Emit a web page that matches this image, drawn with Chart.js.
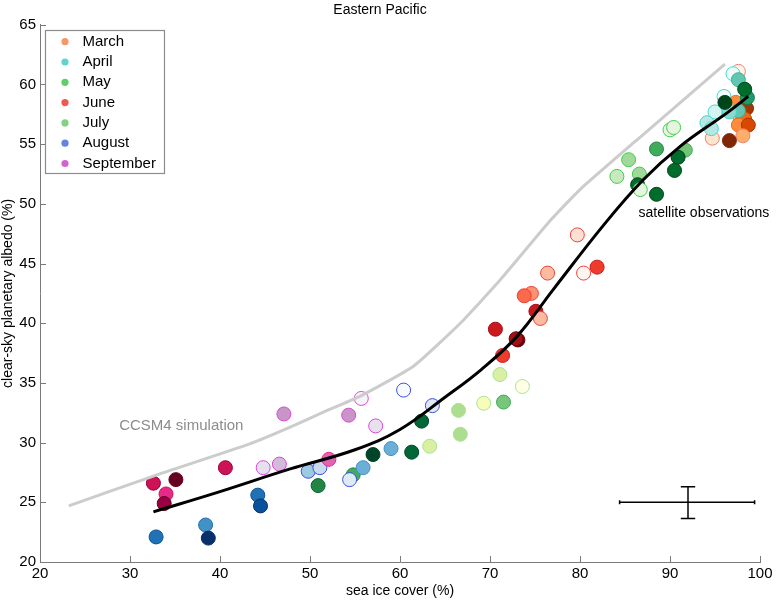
<!DOCTYPE html>
<html>
<head>
<meta charset="utf-8">
<script src="https://cdn.jsdelivr.net/npm/chart.js@4.4.0/dist/chart.umd.min.js"></script>
<style>
  body { margin: 0; background: #fff; }
  canvas { display: block; }
</style>
</head>
<body>
<canvas id="myChart" width="782" height="600"></canvas>
<script>
// months shown in the legend
const months = ['March', 'April', 'May', 'June', 'July', 'August', 'September']

// sea ice cover (%), clear-sky albedo (%) and year index (0 = lightest shade)
const marchIce = [97.6, 97.3, 98.5, 97.8, 98.3, 97.6, 98.7, 98.1, 94.7, 96.6]
const marchAlbedo = [61.1, 58.5, 58.0, 57.2, 57.1, 56.6, 56.6, 55.7, 55.5, 55.3]
const marchYear = [0, 4, 7, 3, 5, 4, 6, 3, 1, 8]

const aprilIce = [97.0, 97.6, 96.0, 95.0, 94.1, 94.6, 97.6, 96.6, 98.6]
const aprilAlbedo = [60.9, 60.4, 59.0, 57.7, 56.8, 56.3, 57.8, 57.7, 58.9]
const aprilYear = [0, 4, 0, 1, 2, 2, 4, 3, 6]

const mayIce = [90.0, 90.4, 88.5, 91.7, 90.9, 90.5, 85.4, 84.1, 86.6, 86.4, 86.7, 88.5, 98.3, 96.1]
const mayAlbedo = [56.2, 56.4, 54.6, 54.5, 53.9, 52.8, 53.7, 52.3, 52.5, 51.6, 51.2, 50.8, 59.6, 58.5]
const mayYear = [1, 1, 5, 4, 7, 7, 3, 2, 3, 7, 1, 7, 7, 8]

const juneIce = [79.7, 81.9, 80.4, 76.4, 74.6, 73.8, 75.1, 75.6, 70.6, 73.1, 72.9, 71.4]
const juneAlbedo = [47.4, 44.7, 44.2, 44.2, 42.5, 42.3, 41.0, 40.4, 39.5, 38.6, 38.7, 37.3]
const juneYear = [1, 5, 0, 2, 3, 4, 6, 2, 6, 8, 7, 5]

const julyIce = [71.1, 73.6, 69.3, 71.5, 66.5, 66.7, 63.3, 62.4, 61.3, 57.0, 54.8, 50.9]
const julyAlbedo = [35.7, 34.7, 33.3, 33.4, 32.7, 30.7, 29.7, 31.8, 29.2, 29.0, 27.3, 26.4]
const julyYear = [2, 0, 1, 4, 3, 3, 2, 7, 7, 8, 5, 6]

const augustIce = [32.9, 38.4, 38.7, 44.2, 44.5, 49.8, 51.1, 54.4, 55.9, 59.0, 60.4, 63.6]
const augustAlbedo = [22.1, 23.1, 22.0, 25.6, 24.7, 27.6, 27.9, 26.9, 27.9, 29.5, 34.4, 33.1]
const augustYear = [6, 5, 8, 6, 7, 3, 2, 1, 4, 4, 0, 1]

const septemberIce = [32.6, 34.0, 33.8, 35.1, 40.6, 44.8, 46.6, 47.1, 52.1, 54.3, 55.7, 57.3]
const septemberAlbedo = [26.6, 25.7, 24.9, 26.9, 27.9, 27.9, 28.2, 32.4, 28.6, 32.3, 33.7, 31.4]
const septemberYear = [6, 5, 7, 8, 6, 1, 2, 3, 4, 3, 0, 1]

// fitted satellite curve and CCSM4 simulation curve
const satIce = [32.6, 40.0, 47.8, 55.0, 60.0, 65.0, 69.0, 73.0, 77.0, 82.6, 87.0, 91.1, 96.3, 98.7]
const satAlbedo = [24.2, 25.9, 27.8, 29.4, 31.1, 33.8, 36.1, 38.9, 42.8, 48.2, 52.0, 54.8, 57.6, 59.0]
const simIce = [23.2, 32.6, 43.3, 47.8, 51.9, 55.6, 61.5, 66.7, 71.1, 76.7, 80.0, 86.7, 96.1]
const simAlbedo = [24.7, 27.2, 29.9, 31.3, 32.7, 33.9, 36.4, 40.0, 43.6, 48.6, 51.2, 55.6, 61.7]

// typical uncertainty (error bar): ice range, albedo range, centre
const errIce = [84.4, 99.4]
const errAlbedo = [23.65, 26.3]
const errCentre = [92.0, 25.0]

const xTicks = [20, 30, 40, 50, 60, 70, 80, 90, 100]
const yTicks = [20, 25, 30, 35, 40, 45, 50, 55, 60, 65]

/***** styles *****/
const FONT = '"Liberation Sans", Arial, sans-serif'
Chart.defaults.font.family = FONT

const ramps = {
  March: ['#fff5eb', '#fee6ce', '#fdd0a2', '#fdae6b', '#fd8d3c', '#f16913', '#d94801', '#a63603', '#7f2704'],
  April: ['#f2fcfb', '#d5f3f0', '#b5e8e2', '#8fd9cc', '#62c6b2', '#3cb391', '#1f9a6a', '#0b7d4a', '#005a32'],
  May: ['#f7fcf5', '#e5f5e0', '#c7e9c0', '#a1d99b', '#74c476', '#41ab5d', '#238b45', '#006d2c', '#00441b'],
  June: ['#fff5f0', '#fee0d2', '#fcbba1', '#fc9272', '#fb6a4a', '#ef3b2c', '#cb181d', '#a50f15', '#67000d'],
  July: ['#ffffe5', '#f7fcb9', '#d9f0a3', '#addd8e', '#78c679', '#41ab5d', '#238443', '#006837', '#004529'],
  August: ['#f7fbff', '#deebf7', '#c6dbef', '#9ecae1', '#6baed6', '#4292c6', '#2171b5', '#08519c', '#08306b'],
  September: ['#f7f4f9', '#e7e1ef', '#d4b9da', '#c994c7', '#df65b0', '#e7298a', '#ce1256', '#980043', '#67001f']
}
const edges = {
  March: '#f08070', April: '#45d8cf', May: '#3fcf48', June: '#e8443a',
  July: '#a8e296', August: '#3a4fe0', September: '#d848d8'
}
const legendColors = ['#f79868', '#5fd4cc', '#5fce6a', '#ef5a50', '#82d282', '#6384e0', '#d264d0']

const monthData = {
  March: [marchIce, marchAlbedo, marchYear],
  April: [aprilIce, aprilAlbedo, aprilYear],
  May: [mayIce, mayAlbedo, mayYear],
  June: [juneIce, juneAlbedo, juneYear],
  July: [julyIce, julyAlbedo, julyYear],
  August: [augustIce, augustAlbedo, augustYear],
  September: [septemberIce, septemberAlbedo, septemberYear]
}

const toPoints = (xs, ys) => xs.map((x, i) => ({ x: x, y: ys[i] }))

const lineSet = (pts, color, width, tension) => ({
  type: 'line', data: pts, showLine: true, borderColor: color, borderWidth: width,
  pointRadius: 0, fill: false, tension: tension
})

const datasets = []
// lines first so they sit on top of the dots
datasets.push(lineSet(toPoints(satIce, satAlbedo), '#000', 3, 0.4))
datasets.push(lineSet(toPoints(simIce, simAlbedo), '#cccccc', 3, 0.15))

// error bar
const errLine = pts => ({ type: 'line', data: pts, showLine: true, borderColor: '#000', borderWidth: 1.5, pointRadius: 0, tension: 0 })
const capHalf = 0.8
datasets.push(Object.assign(errLine(toPoints(errIce, [errCentre[1], errCentre[1]])), { pointRadius: 2, pointStyle: 'line', rotation: 90, pointBorderColor: '#000', pointBorderWidth: 1.5 }))
datasets.push(errLine(toPoints([errCentre[0], errCentre[0]], errAlbedo)))
datasets.push(errLine(toPoints([errCentre[0] - capHalf, errCentre[0] + capHalf], [errAlbedo[0], errAlbedo[0]])))
datasets.push(errLine(toPoints([errCentre[0] - capHalf, errCentre[0] + capHalf], [errAlbedo[1], errAlbedo[1]])))

// later months on top
months.slice().reverse().forEach(m => {
  const [xs, ys, yr] = monthData[m]
  const ramp = ramps[m]
  datasets.push({
    label: m,
    data: toPoints(xs, ys),
    pointRadius: 7,
    pointBorderWidth: 1,
    backgroundColor: ctx => ramp[yr[ctx.dataIndex]],
    borderColor: ctx => yr[ctx.dataIndex] <= 3 ? edges[m] : ramp[Math.min(yr[ctx.dataIndex] + 1, 8)]
  })
})

// ticks pointing into the plot, like the original
const innerTicks = {
  id: 'innerTicks',
  afterDraw(chart) {
    const { ctx, chartArea, scales } = chart
    ctx.save()
    ctx.strokeStyle = '#7a7a7a'
    ctx.lineWidth = 1
    scales.x.ticks.forEach(t => {
      const px = Math.round(scales.x.getPixelForValue(t.value)) + 0.5
      ctx.beginPath(); ctx.moveTo(px, chartArea.bottom); ctx.lineTo(px, chartArea.bottom - 6); ctx.stroke()
    })
    scales.y.ticks.forEach(t => {
      const py = Math.round(scales.y.getPixelForValue(t.value)) + 0.5
      ctx.beginPath(); ctx.moveTo(chartArea.left, py); ctx.lineTo(chartArea.left + 6, py); ctx.stroke()
    })
    ctx.restore()
  }
}

// curve names written on the plot
const curveNames = {
  id: 'curveNames',
  afterDraw(chart) {
    const { ctx, scales } = chart
    ctx.save()
    ctx.textBaseline = 'middle'
    ctx.textAlign = 'left'
    ctx.font = '15px ' + FONT
    ctx.fillStyle = '#8c8c8c'
    ctx.fillText('CCSM4 simulation', scales.x.getPixelForValue(28.8), scales.y.getPixelForValue(31.4))
    ctx.font = '14px ' + FONT
    ctx.fillStyle = '#000'
    ctx.fillText('satellite observations', scales.x.getPixelForValue(86.5), scales.y.getPixelForValue(49.2))
    ctx.restore()
  }
}

// boxed legend in the upper left corner
const legendBox = {
  id: 'legendBox',
  afterDraw(chart) {
    const ctx = chart.ctx
    ctx.save()
    ctx.fillStyle = '#fff'
    ctx.fillRect(45.5, 30.5, 119, 143)
    ctx.strokeStyle = '#8c8c8c'
    ctx.lineWidth = 1.2
    ctx.strokeRect(45.5, 30.5, 119, 143)
    ctx.font = '15px ' + FONT
    ctx.textBaseline = 'middle'
    months.forEach((m, i) => {
      const y = 41.7 + i * 20.3
      ctx.fillStyle = legendColors[i]
      ctx.beginPath(); ctx.arc(65, y, 3.6, 0, Math.PI * 2); ctx.fill()
      ctx.fillStyle = '#000'
      ctx.fillText(m, 82.5, y)
    })
    ctx.restore()
  }
}

new Chart(document.getElementById('myChart'), {
  type: 'scatter',
  data: { datasets: datasets },
  options: {
    responsive: false,
    animation: false,
    layout: { padding: { left: 0, right: 22, top: 0, bottom: 0 } },
    plugins: {
      legend: { display: false },
      tooltip: { enabled: false },
      title: {
        display: true,
        text: 'Eastern Pacific',
        color: '#000',
        font: { size: 14, weight: 'normal' },
        padding: { top: 2, bottom: 6 }
      }
    },
    scales: {
      x: {
        type: 'linear', min: 20, max: 100,
        afterBuildTicks: s => { s.ticks = xTicks.map(v => ({ value: v })) },
        afterFit: s => { s.height = 38 },
        grid: { display: false, drawTicks: false },
        border: { display: true, color: '#7a7a7a', width: 1 },
        ticks: { color: '#000', font: { size: 15 }, padding: 3 },
        title: { display: true, text: 'sea ice cover (%)', color: '#000', font: { size: 14 }, padding: { top: 2, bottom: 0 } }
      },
      y: {
        type: 'linear', min: 20, max: 65,
        afterBuildTicks: s => { s.ticks = yTicks.map(v => ({ value: v })) },
        afterFit: s => { s.width = 40 },
        grid: { display: false, drawTicks: false },
        border: { display: true, color: '#7a7a7a', width: 1 },
        ticks: { color: '#000', font: { size: 15 }, padding: 4 },
        title: { display: true, text: 'clear-sky planetary albedo (%)', color: '#000', font: { size: 14 }, padding: { top: 0, bottom: 0 } }
      }
    }
  },
  plugins: [innerTicks, curveNames, legendBox]
})
</script>
</body>
</html>
